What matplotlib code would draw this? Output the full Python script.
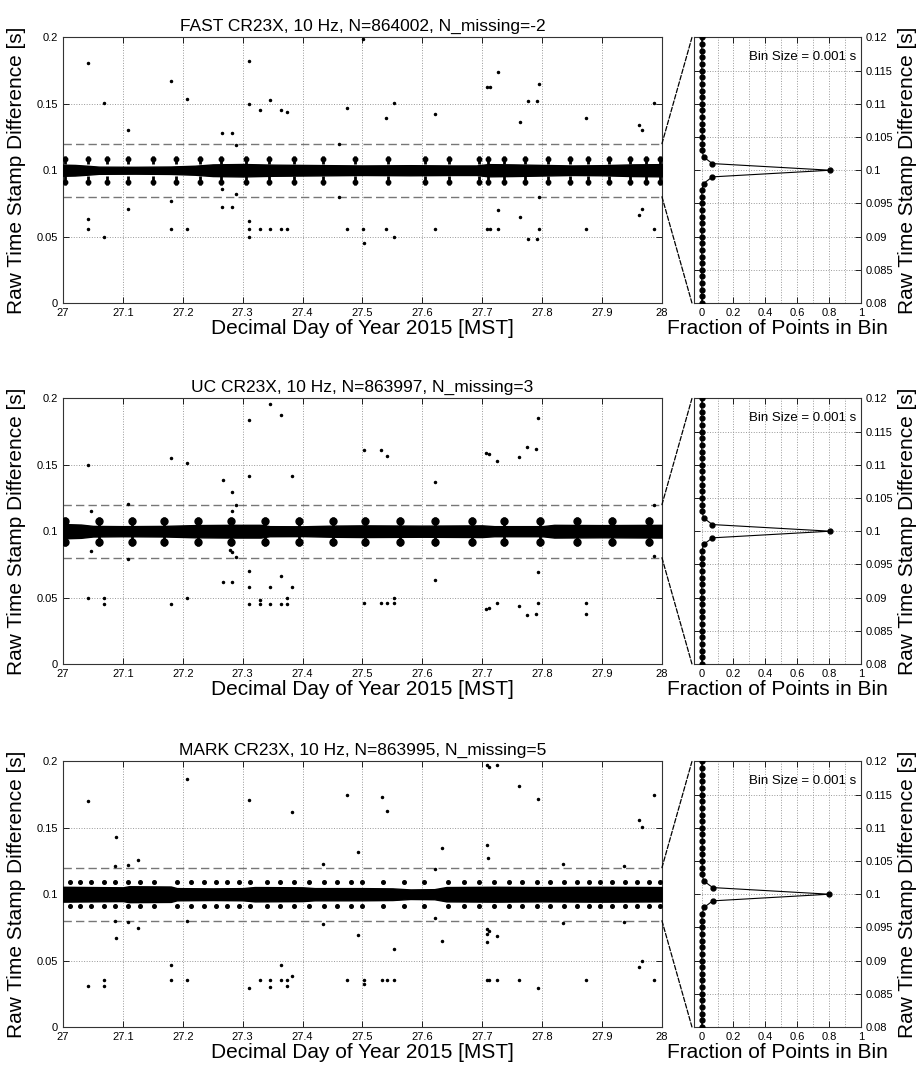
import numpy as np
import matplotlib
matplotlib.use("Agg")
import matplotlib.pyplot as plt
from matplotlib.ticker import MultipleLocator, FuncFormatter
from matplotlib.patches import ConnectionPatch

plt.rcParams['font.family'] = ['Liberation Sans', 'DejaVu Sans']

## Titles for each logger
titles = ["FAST CR23X, 10 Hz, N=864002, N_missing=-2",
          "UC CR23X, 10 Hz, N=863997, N_missing=3",
          "MARK CR23X, 10 Hz, N=863995, N_missing=5"]

## FAST: isolated outliers
fast_out_x = [27.041, 27.068, 27.109, 27.181, 27.207, 27.266, 27.282, 27.289, 27.310, 27.310,
              27.329, 27.345, 27.364, 27.374, 27.474, 27.501, 27.540, 27.552, 27.621, 27.461,
              27.7255, 27.708, 27.713, 27.795, 27.776, 27.791, 27.763, 27.874, 27.987, 27.961, 27.967,
              27.041, 27.041, 27.068, 27.109, 27.181, 27.181, 27.207, 27.266, 27.266, 27.282,
              27.289, 27.310, 27.310, 27.310, 27.329, 27.345, 27.364, 27.374, 27.461, 27.474,
              27.501, 27.502, 27.540, 27.552, 27.621, 27.7255, 27.763, 27.708, 27.713, 27.7255,
              27.795, 27.795, 27.776, 27.791, 27.874, 27.961, 27.967, 27.987]
fast_out_y = [0.181, 0.151, 0.130, 0.167, 0.154, 0.128, 0.128, 0.119, 0.182, 0.150,
              0.145, 0.153, 0.145, 0.144, 0.147, 0.199, 0.139, 0.151, 0.142, 0.120,
              0.174, 0.163, 0.163, 0.165, 0.1525, 0.152, 0.136, 0.139, 0.151, 0.134, 0.130,
              0.063, 0.056, 0.050, 0.071, 0.077, 0.056, 0.056, 0.086, 0.072, 0.072,
              0.082, 0.062, 0.056, 0.050, 0.056, 0.056, 0.056, 0.056, 0.080, 0.056,
              0.056, 0.045, 0.056, 0.0495, 0.056, 0.070, 0.065, 0.056, 0.056, 0.056,
              0.080, 0.056, 0.048, 0.048, 0.056, 0.0666, 0.0706, 0.056]
## FAST: band half width along the day
fast_band_x = [27.0, 27.02, 27.04, 27.06, 27.12, 27.18, 27.22, 27.25, 27.30, 27.35, 27.40, 27.45,
               27.50, 27.58, 27.65, 27.69, 27.71, 27.75, 27.80, 27.85, 27.90, 27.95, 28.0]
fast_band_hw = [0.0042, 0.0040, 0.0034, 0.0027, 0.0026, 0.0028, 0.0034, 0.0044, 0.0047, 0.0042, 0.0040, 0.0038,
                0.0036, 0.0038, 0.0036, 0.0036, 0.0046, 0.0044, 0.0040, 0.0036, 0.0038, 0.0044, 0.0046]
## FAST: periodic clusters near +/-0.01
fast_clu_x = [27.003, 27.041, 27.074, 27.109, 27.150, 27.188, 27.228, 27.264, 27.306, 27.344,
              27.386, 27.434, 27.487, 27.543, 27.604, 27.645, 27.694, 27.709, 27.736, 27.771,
              27.809, 27.846, 27.877, 27.912, 27.946, 27.974, 27.997]

## UC
uc_out_x = [27.041, 27.181, 27.207, 27.267, 27.282, 27.289, 27.310, 27.310, 27.345, 27.364,
            27.383, 27.109, 27.046, 27.282, 27.502, 27.531, 27.541, 27.621, 27.706, 27.712,
            27.724, 27.762, 27.775, 27.790, 27.793, 27.986,
            27.041, 27.068, 27.068, 27.046, 27.109, 27.181, 27.207, 27.267, 27.282, 27.279,
            27.282, 27.289, 27.310, 27.310, 27.310, 27.329, 27.329, 27.345, 27.345, 27.364,
            27.364, 27.374, 27.374, 27.383, 27.502, 27.531, 27.541, 27.552, 27.552, 27.621,
            27.706, 27.712, 27.724, 27.762, 27.775, 27.790, 27.793, 27.793, 27.873, 27.873, 27.986]
uc_out_y = [0.1496, 0.155, 0.151, 0.1385, 0.1295, 0.1196, 0.184, 0.1416, 0.196, 0.1877,
            0.1416, 0.1207, 0.115, 0.115, 0.161, 0.161, 0.157, 0.137, 0.159, 0.158,
            0.153, 0.156, 0.1635, 0.162, 0.185, 0.1196,
            0.050, 0.0496, 0.0453, 0.085, 0.0793, 0.0453, 0.0496, 0.0615, 0.0615, 0.086,
            0.084, 0.0806, 0.070, 0.058, 0.0453, 0.048, 0.0453, 0.058, 0.0453, 0.066,
            0.0453, 0.0453, 0.050, 0.058, 0.0458, 0.0458, 0.0458, 0.0458, 0.050, 0.063,
            0.0413, 0.042, 0.0458, 0.044, 0.0365, 0.038, 0.069, 0.0458, 0.0458, 0.038, 0.081]
uc_band_x = [27.0, 27.03, 27.05, 27.10, 27.17, 27.22, 27.28, 27.33, 27.345, 27.40, 27.45,
             27.5, 27.6, 27.7, 27.72, 27.8, 27.82, 27.9, 28.0]
uc_band_hw = [0.0054, 0.0050, 0.0040, 0.0038, 0.0040, 0.0046, 0.0048, 0.0048, 0.0038, 0.0037, 0.0042,
              0.0044, 0.0042, 0.0044, 0.0038, 0.0038, 0.0048, 0.0046, 0.0048]
uc_clu_x = [27.003, 27.060, 27.115, 27.168, 27.225, 27.280, 27.338, 27.394, 27.450, 27.504,
            27.563, 27.621, 27.683, 27.737, 27.797, 27.858, 27.917, 27.978]

## MARK
mark_out_x = [27.041, 27.089, 27.207, 27.310, 27.383, 27.474, 27.532, 27.541, 27.493, 27.632,
              27.109, 27.125, 27.086, 27.434, 27.621, 27.708, 27.709, 27.708, 27.712, 27.724,
              27.762, 27.793, 27.834, 27.937, 27.961, 27.967, 27.987,
              27.041, 27.068, 27.068, 27.086, 27.089, 27.109, 27.125, 27.181, 27.181, 27.207,
              27.207, 27.310, 27.329, 27.345, 27.345, 27.364, 27.364, 27.374, 27.374, 27.383,
              27.434, 27.474, 27.493, 27.502, 27.502, 27.532, 27.541, 27.552, 27.552, 27.621,
              27.632, 27.708, 27.712, 27.708, 27.724, 27.708, 27.708, 27.712, 27.724, 27.762,
              27.793, 27.834, 27.873, 27.937, 27.961, 27.967, 27.987]
mark_out_y = [0.170, 0.143, 0.187, 0.171, 0.162, 0.175, 0.1736, 0.1625, 0.1316, 0.135,
              0.122, 0.126, 0.121, 0.123, 0.119, 0.137, 0.1275, 0.1975, 0.196, 0.1975,
              0.1816, 0.1716, 0.123, 0.1215, 0.156, 0.151, 0.175,
              0.031, 0.0357, 0.0307, 0.080, 0.0667, 0.0787, 0.0747, 0.0468, 0.0352, 0.0352,
              0.0795, 0.0297, 0.0352, 0.0352, 0.0302, 0.0465, 0.0352, 0.0352, 0.031, 0.0385,
              0.0775, 0.0352, 0.069, 0.0352, 0.0327, 0.0352, 0.0352, 0.0352, 0.0584, 0.082,
              0.065, 0.0735, 0.072, 0.070, 0.0685, 0.064, 0.0352, 0.0352, 0.0352, 0.0352,
              0.0294, 0.078, 0.0352, 0.079, 0.0448, 0.0498, 0.0352]
mark_band_x = [27.0, 27.05, 27.10, 27.11, 27.18, 27.19, 27.25, 27.30, 27.32, 27.40, 27.42, 27.50,
               27.55, 27.58, 27.62, 27.64, 27.72, 27.80, 27.90, 28.0]
mark_band_hw = [0.0056, 0.0054, 0.0052, 0.0060, 0.0058, 0.0046, 0.0044, 0.0046, 0.0054, 0.0052, 0.0046, 0.0046,
                0.0044, 0.0036, 0.0038, 0.0054, 0.0056, 0.0054, 0.0056, 0.0054]
mark_clu_x = [27.012, 27.029, 27.046, 27.068, 27.087, 27.109, 27.128, 27.152, 27.191, 27.213,
              27.235, 27.255, 27.274, 27.294, 27.313, 27.341, 27.363, 27.386, 27.411, 27.436,
              27.458, 27.480, 27.500, 27.535, 27.569, 27.603, 27.642, 27.669, 27.694, 27.719,
              27.744, 27.766, 27.791, 27.813, 27.836, 27.858, 27.878, 27.897, 27.916, 27.939,
              27.958, 27.978, 27.996]

## Histograms (bin centre, fraction of points)
hist_bins = [0.080, 0.081, 0.082, 0.083, 0.084, 0.085, 0.086, 0.087, 0.088, 0.089,
             0.090, 0.091, 0.092, 0.093, 0.094, 0.095, 0.096, 0.097, 0.098, 0.099,
             0.100, 0.101, 0.102, 0.103, 0.104, 0.105, 0.106, 0.107, 0.108, 0.109,
             0.110, 0.111, 0.112, 0.113, 0.114, 0.115, 0.116, 0.117, 0.118, 0.119, 0.120]
fast_frac = [0.001] * 17 + [0.002, 0.012, 0.068, 0.808, 0.068, 0.012] + [0.004] * 8 + [0.001] * 10
uc_frac = [0.001] * 17 + [0.002, 0.012, 0.068, 0.808, 0.068, 0.012] + [0.004] * 8 + [0.001] * 10
mark_frac = [0.001] * 17 + [0.003, 0.015, 0.070, 0.802, 0.070, 0.013] + [0.004] * 8 + [0.001] * 10

panels = [
    (fast_out_x, fast_out_y, fast_band_x, fast_band_hw, fast_clu_x, fast_frac, 'stem'),
    (uc_out_x, uc_out_y, uc_band_x, uc_band_hw, uc_clu_x, uc_frac, 'blob'),
    (mark_out_x, mark_out_y, mark_band_x, mark_band_hw, mark_clu_x, mark_frac, 'dot'),
]

fig = plt.figure(figsize=(9.2, 10.74), dpi=100)
fmt = FuncFormatter(lambda v, p: f'{v:g}')
bottoms = [0.7179, 0.3818, 0.0438]
H = 0.2472

def style(ax):
    ax.tick_params(direction='in', top=True, right=True, labelsize=8, length=4, width=0.6)
    ax.tick_params(which='minor', direction='in', length=0)
    for s in ax.spines.values():
        s.set_linewidth(0.8)
        s.set_color('#333333')
    ax.grid(True, which='both', ls=':', color='#999999', lw=0.7)
    ax.set_axisbelow(True)

for i, (ox, oy, bx, bhw, cx, frac, ctype) in enumerate(panels):
    ax = fig.add_axes([0.0685, bottoms[i], 0.651, H])
    hax = fig.add_axes([0.7543, bottoms[i], 0.1815, H])

    ## main time series
    bx = np.array(bx); bhw = np.array(bhw)
    ax.fill_between(bx, 0.1 - bhw, 0.1 + bhw, color='k', lw=1.0, edgecolor='k', zorder=3)
    cx = np.array(cx)
    if ctype == 'stem':
        ax.vlines(cx, 0.1045, 0.1108, color='k', lw=2.0, zorder=3)
        ax.vlines(cx, 0.0892, 0.0955, color='k', lw=2.0, zorder=3)
        ax.plot(cx, np.full(len(cx), 0.1085), 'o', color='k', ms=3.2, zorder=3)
        ax.plot(cx, np.full(len(cx), 0.0915), 'o', color='k', ms=3.2, zorder=3)
    elif ctype == 'blob':
        ax.vlines(cx, 0.1035, 0.1110, color='k', lw=2.0, zorder=3)
        ax.vlines(cx, 0.0890, 0.0965, color='k', lw=2.0, zorder=3)
        ax.plot(cx, np.full(len(cx), 0.1080), 'o', color='k', ms=5.0, zorder=3)
        ax.plot(cx, np.full(len(cx), 0.0920), 'o', color='k', ms=5.0, zorder=3)
    else:
        ax.plot(cx, np.full(len(cx), 0.1092), 'o', color='k', ms=2.6, zorder=3)
        ax.plot(cx, np.full(len(cx), 0.0908), 'o', color='k', ms=2.6, zorder=3)
    ax.plot(ox, oy, 'o', color='k', ms=1.5, zorder=3)
    ax.axhline(0.12, color='#777777', ls='--', lw=1.0, dashes=(6, 3), zorder=2)
    ax.axhline(0.08, color='#777777', ls='--', lw=1.0, dashes=(6, 3), zorder=2)
    ax.set_xlim(27, 28)
    ax.set_ylim(0, 0.2)
    ax.xaxis.set_major_locator(MultipleLocator(0.1))
    ax.yaxis.set_major_locator(MultipleLocator(0.05))
    ax.xaxis.set_major_formatter(fmt)
    ax.yaxis.set_major_formatter(fmt)
    style(ax)
    ax.set_title(titles[i], fontsize=12.5, pad=5)
    ax.set_xlabel('Decimal Day of Year 2015 [MST]', fontsize=15, labelpad=1)
    ax.set_ylabel('Raw Time Stamp Difference [s]', fontsize=15, labelpad=8)

    ## histogram
    hax.plot(frac, hist_bins, '-o', color='k', lw=0.8, ms=3.5, zorder=3)
    hax.set_xlim(-0.048, 1)
    hax.set_ylim(0.08, 0.12)
    hax.xaxis.set_major_locator(MultipleLocator(0.2))
    hax.xaxis.set_minor_locator(MultipleLocator(0.1))
    hax.yaxis.set_major_locator(MultipleLocator(0.005))
    hax.xaxis.set_major_formatter(fmt)
    hax.yaxis.set_major_formatter(fmt)
    style(hax)
    hax.yaxis.tick_right()
    hax.tick_params(left=True, labelleft=False, labelright=True)
    hax.yaxis.set_label_position('right')
    hax.set_ylabel('Raw Time Stamp Difference [s]', fontsize=15, labelpad=3)
    hax.set_xlabel('Fraction of Points in Bin', fontsize=15, labelpad=1)
    hax.text(0.97, 0.95, 'Bin Size = 0.001 s', transform=hax.transAxes,
             ha='right', va='top', fontsize=9.5)

    ## zoom connector lines
    for ya, yb in [(0.12, 1.0), (0.08, 0.0)]:
        con = ConnectionPatch(xyA=(28, ya), coordsA=ax.transData,
                              xyB=(-0.012, yb), coordsB=hax.transAxes,
                              ls='--', color='k', lw=0.9)
        fig.add_artist(con)

fig.savefig('out.png', dpi=100)
